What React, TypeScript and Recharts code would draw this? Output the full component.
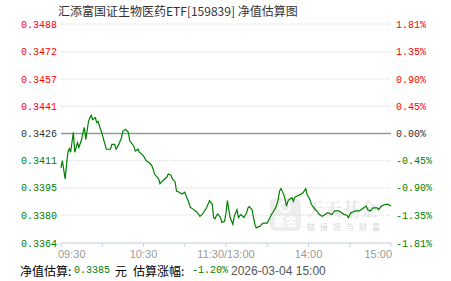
import { CartesianGrid, Line, LineChart, ReferenceLine, XAxis, YAxis } from "recharts"

// minutes after 09:30 (lunch break removed: 120 = 11:30/13:00, 240 = 15:00)
const minutes = [
  0, 1, 3, 5, 6, 7, 9, 10, 12, 13, 15, 16, 17, 18, 20, 21, 22, 23, 25, 26, 27, 28,
  30, 31, 32, 33, 36, 37, 39, 40, 42, 44, 45, 47, 49, 50, 53, 54, 56, 57, 60, 62,
  64, 66, 67, 68, 71, 72, 74, 77, 78, 80, 81, 83, 84, 86, 88, 90, 91, 93, 94, 96,
  99, 101, 103, 106, 108, 110, 111, 112, 113, 114, 116, 117, 119, 120,
  121, 122, 123, 125, 126, 128, 129, 130, 131, 133, 135, 136, 137, 139, 140, 141,
  142, 145, 146, 147, 150, 152, 153, 154, 156, 157, 158, 159, 160, 162, 163, 164,
  165, 166, 168, 169, 170, 171, 174, 176, 178, 179, 181, 182, 183, 185, 186, 188,
  190, 192, 194, 197, 198, 199, 202, 204, 206, 208, 209, 210, 211, 214, 217, 220,
  222, 223, 225, 227, 230, 231, 233, 236, 238, 240,
]

// estimated change vs. previous NAV, in %
const pctChange = [
  -0.57, -0.45, -0.75, -0.31, -0.25, -0.31, 0.02, -0.31, -0.15, -0.23, -0.1, 0.02,
  0.1, -0.1, 0.2, 0.26, 0.3, 0.23, 0.26, 0.18, 0.2, 0.12, -0.01, -0.1, -0.18,
  -0.26, -0.26, -0.18, -0.18, -0.26, -0.18, -0.07, 0.04, 0.07, 0.02, -0.12, -0.21,
  -0.29, -0.26, -0.31, -0.37, -0.45, -0.48, -0.53, -0.59, -0.67, -0.75, -0.83,
  -0.78, -0.72, -0.67, -0.69, -0.75, -0.8, -0.95, -0.97, -1.0, -0.97, -1.03, -1.14,
  -1.22, -1.25, -1.3, -1.37, -1.33, -1.22, -1.11, -1.17, -1.39, -1.41, -1.36,
  -1.33, -1.39, -1.47, -1.45, -1.31,
  -1.11, -1.25, -1.39, -1.5, -1.37, -1.26, -1.39, -1.36, -1.34, -1.39, -1.31,
  -1.23, -1.21, -1.26, -1.39, -1.5, -1.56, -1.53, -1.5, -1.48, -1.48, -1.39, -1.34,
  -1.31, -1.23, -1.17, -1.09, -0.95, -0.91, -1.01, -1.09, -1.2, -1.12, -1.09,
  -1.06, -1.12, -1.06, -1.04, -1.01, -0.98, -0.91, -1.01, -1.09, -1.17, -1.2,
  -1.26, -1.28, -1.34, -1.37, -1.34, -1.31, -1.34, -1.31, -1.28, -1.28, -1.31,
  -1.34, -1.35, -1.39, -1.34, -1.31, -1.28, -1.28, -1.23, -1.2, -1.26, -1.28,
  -1.23, -1.23, -1.26, -1.2, -1.17, -1.17, -1.2,
]

const pctTicks = [1.81, 1.35, 0.9, 0.45, 0, -0.45, -0.9, -1.35, -1.81]
const navLabels = ["0.3488", "0.3472", "0.3457", "0.3441", "0.3426", "0.3411", "0.3395", "0.3380", "0.3364"]
const pctLabels = ["1.81%", "1.35%", "0.90%", "0.45%", "0.00%", "-0.45%", "-0.90%", "-1.35%", "-1.81%"]

const timeTicks = [0, 30, 60, 90, 120, 150, 180, 210, 240]
const timeLabels = ["09:30", "", "10:30", "", "11:30/13:00", "", "14:00", "", "15:00"]

const data = minutes.map((m, i) => ({ m, pct: pctChange[i] }))

const mono = "'Liberation Mono', 'DejaVu Sans Mono', monospace"
const cjk = "'Noto Sans CJK SC', sans-serif"

const tickColor = (v: number) => (v > 0 ? "#ff0000" : v < 0 ? "#008000" : "#333333")

function NavTick({ x, y, payload }: any) {
  const i = pctTicks.indexOf(payload.value)
  return (
    <text x={x} y={y} dy={3.5} textAnchor="end" fontSize={10} fontFamily={mono} fill={tickColor(payload.value)}>
      {navLabels[i]}
    </text>
  )
}

function PctTick({ x, y, payload }: any) {
  const i = pctTicks.indexOf(payload.value)
  return (
    <text x={x} y={y} dy={3.5} textAnchor="start" fontSize={10} fontFamily={mono} fill={tickColor(payload.value)}>
      {pctLabels[i]}
    </text>
  )
}

function TimeTick({ x, y, payload }: any) {
  const i = timeTicks.indexOf(payload.value)
  const last = i === timeTicks.length - 1
  const anchor = i === 0 ? "start" : last ? "end" : "middle"
  const dx = i === 0 ? -3 : last ? 1 : 0
  return (
    <g>
      <line x1={x} x2={x} y1={y} y2={y + 4} stroke="#c9d5e1" />
      {timeLabels[i] && (
        <text x={x + dx} y={y + 15} textAnchor={anchor} fontSize={11} fontFamily="'Liberation Sans', Arial, sans-serif" fill="#9a9a9a">
          {timeLabels[i]}
        </text>
      )}
    </g>
  )
}

export default function App() {
  return (
    <div style={{ position: "absolute", left: 0, top: 0, width: 451, height: 281, background: "#fff", overflow: "hidden" }}>
      {/* watermark */}
      <div style={{ position: "absolute", left: 270, top: 198, width: 31, height: 33, borderRadius: 6, background: "#ededed" }}>
        <div style={{ position: "absolute", left: 9, top: 3, width: 12, height: 12, borderRadius: 6, border: "2px solid #fff", boxSizing: "border-box" }} />
        <div style={{ position: "absolute", left: 3, top: 16, fontSize: 12, fontWeight: 700, color: "#fff", fontFamily: cjk, lineHeight: "14px" }}>基金</div>
      </div>
      <div style={{ position: "absolute", left: 306, top: 199, fontSize: 18, fontWeight: 700, color: "#e8e8e8", fontFamily: "'Noto Serif CJK SC', " + cjk, lineHeight: "18px" }}>天天基金</div>
      <div style={{ position: "absolute", left: 307, top: 222, fontSize: 8, color: "#d6d6d6", fontFamily: cjk, letterSpacing: 5, lineHeight: "9px" }}>链接您与财富</div>

      <div style={{ position: "absolute", left: 58, top: 3, fontSize: 12, color: "#333", fontFamily: cjk, lineHeight: "16px", whiteSpace: "nowrap" }}>
        汇添富国证生物医药ETF[159839] 净值估算图
      </div>

      <div style={{ position: "absolute", left: 0, top: 0 }}>
        <LineChart width={451} height={281} data={data} margin={{ top: 24, right: 0, bottom: 0, left: 0 }}>
          <CartesianGrid yAxisId="l" vertical={false} stroke="#d9d9d9" strokeDasharray="1 1" />
          <XAxis
            dataKey="m"
            type="number"
            domain={[0, 240]}
            ticks={timeTicks}
            height={38}
            tickSize={0}
            tickMargin={0}
            tick={<TimeTick />}
            axisLine={{ stroke: "#c9d5e1" }}
            interval={0}
          />
          <YAxis
            yAxisId="l"
            width={61}
            domain={[-1.81, 1.81]}
            ticks={pctTicks}
            interval={0}
            tickSize={0}
            tickMargin={4}
            axisLine={false}
            tick={<NavTick />}
          />
          <YAxis
            yAxisId="r"
            orientation="right"
            width={60}
            domain={[-1.81, 1.81]}
            ticks={pctTicks}
            interval={0}
            tickSize={0}
            tickMargin={5}
            axisLine={false}
            tick={<PctTick />}
          />
          <ReferenceLine yAxisId="l" y={0} stroke="#999" strokeWidth={1.3} />
          <Line
            yAxisId="r"
            dataKey="pct"
            type="linear"
            stroke="none"
            dot={false}
            activeDot={false}
            isAnimationActive={false}
          />
          <Line
            yAxisId="l"
            dataKey="pct"
            type="linear"
            stroke="#008000"
            strokeWidth={1.2}
            dot={false}
            isAnimationActive={false}
          />
        </LineChart>
      </div>

      <div style={{ position: "absolute", left: 20, top: 263, height: 16, whiteSpace: "nowrap", lineHeight: "16px" }}>
        <span style={{ position: "absolute", left: 0, fontSize: 12, color: "#000", fontFamily: cjk }}>净值估算:</span>
        <span style={{ position: "absolute", left: 54, fontSize: 10, color: "#008000", fontFamily: mono }}>0.3385</span>
        <span style={{ position: "absolute", left: 95, fontSize: 12, color: "#000", fontFamily: cjk }}>元</span>
        <span style={{ position: "absolute", left: 113, fontSize: 12, color: "#000", fontFamily: cjk }}>估算涨幅:</span>
        <span style={{ position: "absolute", left: 172, fontSize: 10, color: "#008000", fontFamily: mono }}>-1.20%</span>
        <span style={{ position: "absolute", left: 211, fontSize: 12, color: "#555", fontFamily: "'Liberation Sans', Arial, sans-serif" }}>2026-03-04 15:00</span>
      </div>
    </div>
  )
}
